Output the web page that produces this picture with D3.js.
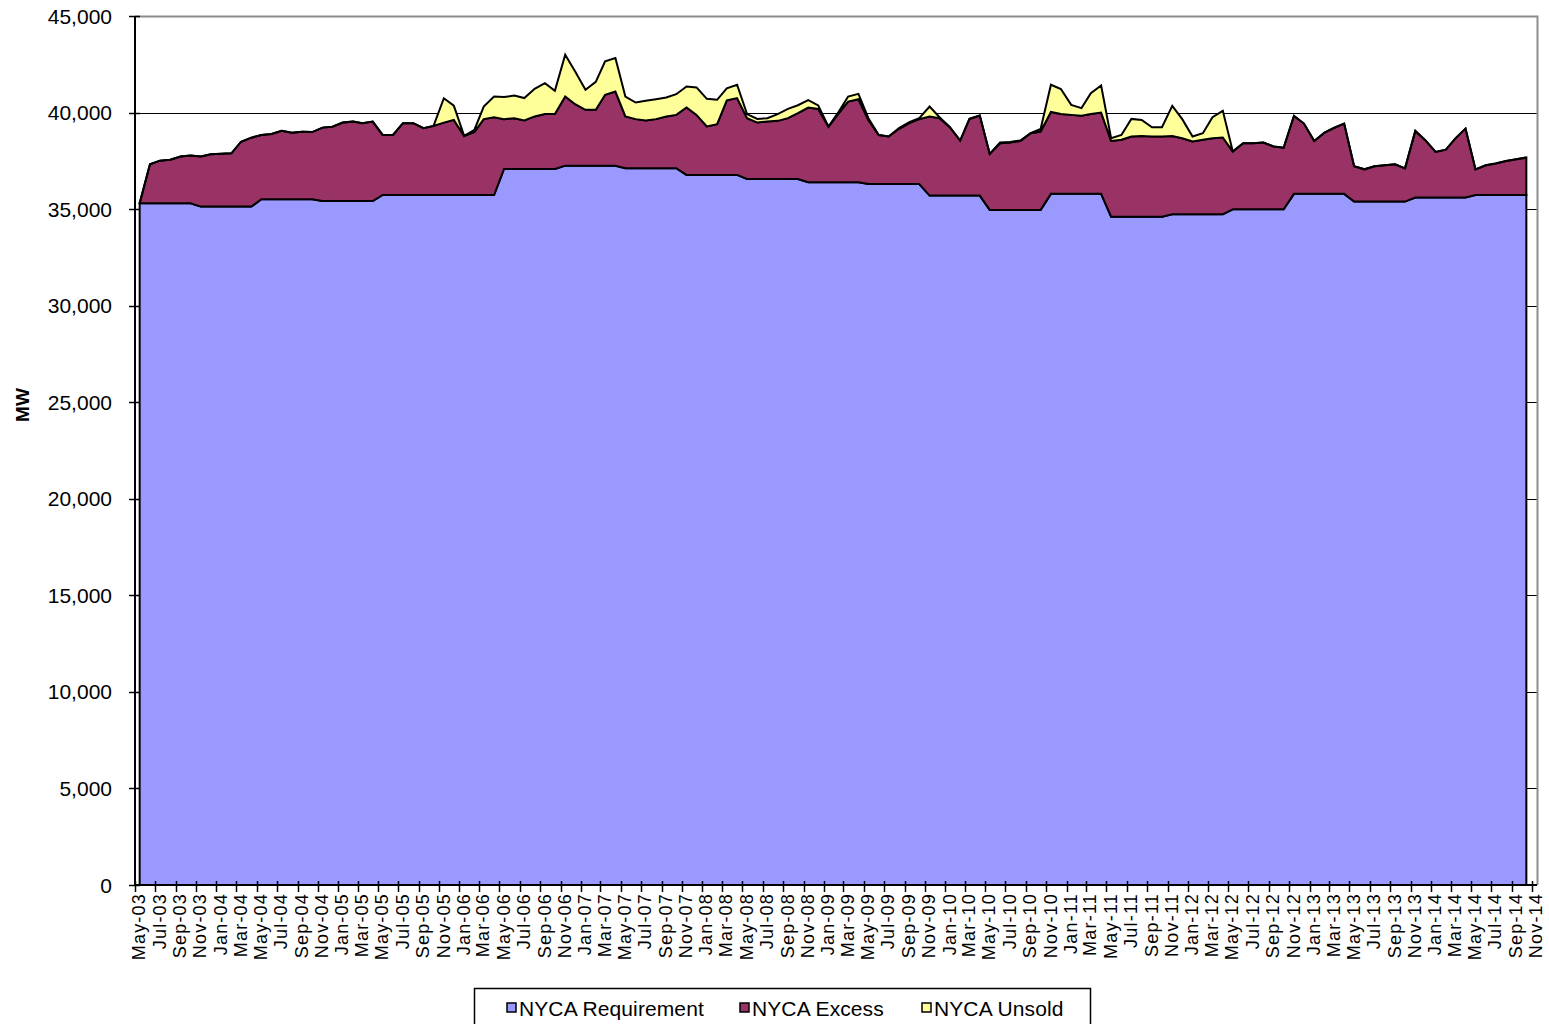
<!DOCTYPE html>
<html><head><meta charset="utf-8">
<script src="https://cdn.jsdelivr.net/npm/d3@7"></script>
<style>
body{margin:0;background:#fff}
svg{display:block}
text{font-family:"Liberation Sans",Arial,Helvetica,sans-serif;fill:#000}
</style>
</head><body>
<svg id="chart" width="1549" height="1024"></svg>
<script>
// ---- data (MW), monthly May-03 .. Oct-14 ----
const firstMonth = new Date(2003, 4, 1);
const lastMonthExclusive = new Date(2014, 10, 1);
const months = d3.timeMonth.range(firstMonth, lastMonthExclusive);

const requirement = [
  35300,35300,35300,35300,35300,35300,35130,35130,35130,35130,35130,35130,
  35510,35510,35510,35510,35510,35510,35420,35420,35420,35420,35420,35420,
  35730,35730,35730,35730,35730,35730,35730,35730,35730,35730,35730,35730,
  37080,37080,37080,37080,37080,37080,37250,37250,37250,37250,37250,37250,
  37120,37120,37120,37120,37120,37120,36770,36770,36770,36770,36770,36770,
  36560,36560,36560,36560,36560,36560,36390,36390,36390,36390,36390,36390,
  36300,36300,36300,36300,36300,36300,35700,35700,35700,35700,35700,35700,
  34960,34960,34960,34960,34960,34960,35790,35790,35790,35790,35790,35790,
  34610,34610,34610,34610,34610,34610,34730,34730,34730,34730,34730,34730,
  34990,34990,34990,34990,34990,34990,35790,35790,35790,35790,35790,35790,
  35390,35390,35390,35390,35390,35390,35600,35600,35600,35600,35600,35600,
  35730,35730,35730,35730,35730,35730
];
const excess = [
  0,2020,2210,2260,2420,2470,2590,2710,2740,2760,3360,3570,
  3330,3380,3550,3450,3500,3480,3800,3850,4060,4110,4030,4110,
  3110,3110,3720,3720,3460,3580,3750,3890,3060,3270,3930,4030,
  2580,2630,2510,2720,2840,2840,3580,3180,2890,2900,3670,3840,
  2680,2540,2470,2540,2680,2760,3490,3110,2510,2630,3860,3980,
  3150,2920,2980,3010,3150,3410,3870,3800,2880,3580,4180,4300,
  3320,2540,2460,2860,3150,3360,4100,4010,3540,2850,3970,4150,
  2900,3450,3490,3570,3970,4060,4240,4130,4090,4040,4140,4210,
  3920,3980,4150,4180,4150,4150,4060,3940,3770,3860,3940,3980,
  2990,3420,3420,3460,3250,3190,4040,3640,2740,3170,3410,3640,
  1830,1670,1830,1880,1930,1720,3450,2970,2360,2480,3050,3570,
  1330,1540,1630,1760,1850,1940
];
const unsold = [
  0,0,0,0,0,0,0,0,0,0,0,0,
  0,0,0,0,0,0,0,0,0,0,0,0,
  0,0,0,0,0,0,1260,740,0,110,650,1070,
  1140,1170,1160,1430,1600,1210,2160,1700,1040,1440,1730,1730,
  1030,860,1020,1030,980,1070,1090,1420,1430,1260,620,690,
  210,190,170,350,480,410,380,180,0,80,260,280,
  90,0,0,30,50,50,510,50,0,0,0,0,
  0,40,30,20,0,130,1410,1300,520,400,1070,1400,
  140,250,910,830,480,480,1560,990,260,340,1090,1380,
  0,0,0,0,0,0,0,0,0,0,0,0,
  0,0,0,0,0,0,0,0,0,0,0,0,
  0,0,0,0,0,0
];
const seriesKeys = ["NYCA Requirement","NYCA Excess","NYCA Unsold"];
const seriesColors = ["#9999FF","#993366","#FFFF99"];
const yTickValues = [0,5000,10000,15000,20000,25000,30000,35000,40000,45000];
const yAxisTitle = "MW";

// ---- layout ----
const plot = {left:135, right:1537, top:16, bottom:885};
const svg = d3.select("#chart");

const x = d3.scaleTime()
  .domain([firstMonth, lastMonthExclusive])
  .range([135, 1532]);
const y = d3.scaleLinear().domain([0,45000]).range([plot.bottom, plot.top]);

const rows = months.map((m,i)=>({
  date: d3.timeDay.offset(m, 14),
  "NYCA Requirement": requirement[i],
  "NYCA Excess": excess[i],
  "NYCA Unsold": unsold[i]
}));
const stacked = d3.stack().keys(seriesKeys)(rows);

// gridlines
svg.append("g").selectAll("line").data(yTickValues.filter(v=>v<45000)).join("line")
  .attr("x1", plot.left).attr("x2", plot.right)
  .attr("y1", d=>Math.round(y(d))+0.5).attr("y2", d=>Math.round(y(d))+0.5)
  .attr("stroke","#000").attr("stroke-width",1);

// plot border (top/right grey)
svg.append("path")
  .attr("d",`M${plot.left},${plot.top+0.5}H${plot.right+0.5}V${plot.bottom}`)
  .attr("fill","none").attr("stroke","#8c8c8c").attr("stroke-width",2);

// areas
const area = d3.area()
  .x(d=>x(d.data.date))
  .y0(d=>y(d[0]))
  .y1(d=>y(d[1]));
svg.append("g").selectAll("path").data(stacked).join("path")
  .attr("d", area)
  .attr("fill",(d,i)=>seriesColors[i])
  .attr("stroke","#000")
  .attr("stroke-width",2)
  .attr("stroke-linejoin","miter");

// y axis
const yAxis = svg.append("g");
yAxis.append("line").attr("x1",plot.left).attr("x2",plot.left)
  .attr("y1",plot.top).attr("y2",plot.bottom).attr("stroke","#000").attr("stroke-width",2);
yAxis.selectAll("line.t").data(yTickValues).join("line").attr("class","t")
  .attr("x1",plot.left-6).attr("x2",plot.left+5)
  .attr("y1",d=>Math.round(y(d))+0.5).attr("y2",d=>Math.round(y(d))+0.5)
  .attr("stroke","#000").attr("stroke-width",1.5);
yAxis.selectAll("text").data(yTickValues).join("text")
  .attr("x",112).attr("y",d=>y(d)).attr("dy","0.36em")
  .attr("text-anchor","end").attr("font-size",21)
  .text(d=>d3.format(",")(d));

svg.append("text")
  .attr("transform","translate(29,405) rotate(-90)")
  .attr("text-anchor","middle").attr("font-size",19).attr("font-weight","bold")
  .text(yAxisTitle);

// x axis
const xTicks = d3.timeMonth.every(2).range(firstMonth, d3.timeDay.offset(lastMonthExclusive,1));
const xAxis = svg.append("g");
xAxis.append("line").attr("x1",plot.left).attr("x2",plot.right)
  .attr("y1",plot.bottom).attr("y2",plot.bottom).attr("stroke","#000").attr("stroke-width",2);
xAxis.selectAll("line.t").data(xTicks).join("line").attr("class","t")
  .attr("x1",d=>Math.round(x(d))+0.5).attr("x2",d=>Math.round(x(d))+0.5)
  .attr("y1",plot.bottom-4).attr("y2",plot.bottom+7)
  .attr("stroke","#000").attr("stroke-width",1.5);
const fmt = d3.timeFormat("%b-%y");
xAxis.selectAll("text").data(xTicks).join("text")
  .attr("transform",d=>`translate(${x(d)+4},${plot.bottom+8}) rotate(-90)`)
  .attr("text-anchor","end").attr("dy","0.35em")
  .attr("font-size",18).attr("letter-spacing","1.2px")
  .text(d=>fmt(d));

// legend
const lg = svg.append("g");
lg.append("rect").attr("x",474.5).attr("y",988.5).attr("width",616).attr("height",40)
  .attr("fill","#fff").attr("stroke","#000").attr("stroke-width",1.5);
const legendX = [507, 740, 922];
seriesKeys.forEach((k,i)=>{
  lg.append("rect").attr("x",legendX[i]).attr("y",1003).attr("width",9).attr("height",9)
    .attr("fill",seriesColors[i]).attr("stroke","#000").attr("stroke-width",1.5);
  lg.append("text").attr("x",legendX[i]+12).attr("y",1008).attr("dy","0.36em")
    .attr("font-size",21).attr("letter-spacing","0.1px").text(k);
});
</script>
</body></html>
